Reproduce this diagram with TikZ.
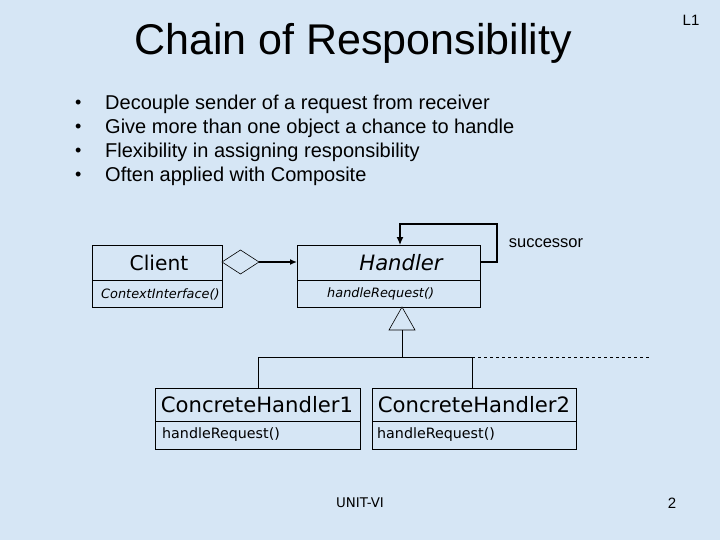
\documentclass[tikz,border=0pt]{standalone}
\usepackage{fontspec}
\usetikzlibrary{arrows.meta}
\setmainfont{Liberation Sans}
\newfontfamily\tahoma{DejaVu Sans}[Scale=0.92]
\begin{document}
\begin{tikzpicture}[x=1pt,y=-1pt,
  box/.style={draw,line width=0.6pt},
  lbl/.style={inner sep=0pt,anchor=west},
  ln/.style={line width=0.6pt}]
\fill[fill={rgb,255:red,214;green,230;blue,245}] (0,0) rectangle (720,540);
\useasboundingbox (0,0) rectangle (720,540);
\node[inner sep=0pt] (title) at (353,43) {\fontsize{43}{48}\selectfont Chain of Responsibility};
\node[inner sep=0pt] (l1) at (691,20) {\fontsize{15}{18}\selectfont L1};
\foreach \y/\t in {104/Decouple sender of a request from receiver,128/Give more than one object a chance to handle,152/Flexibility in assigning responsibility,176/Often applied with Composite}{
  \node[lbl] at (75,\y) {\fontsize{18}{20}\selectfont •};
  \node[lbl] at (105,\y) {\fontsize{20}{22}\selectfont \t};
}
% Client
\draw[box] (92,245) rectangle (222,307); \draw[ln] (92,280)--(222,280);
\node[inner sep=0pt] (client) at (159,263) {\tahoma\fontsize{22}{24}\selectfont Client};
\node[lbl] (ci) at (101,294) {\tahoma\fontsize{14}{16}\selectfont\itshape ContextInterface()};
% Handler
\draw[box] (297,245) rectangle (480,307); \draw[ln] (297,280)--(480,280);
\node[inner sep=0pt] (handler) at (401,263) {\tahoma\fontsize{23}{26}\selectfont\itshape Handler};
\node[lbl] (hr) at (327,294) {\tahoma\fontsize{14}{16}\selectfont\itshape handleRequest()};
% diamond + arrow
\coordinate (d1) at (222,262); \coordinate (d2) at (259,262);
\draw[ln,fill={rgb,255:red,214;green,230;blue,245}] (d1)--(240.5,250)--(d2)--(240.5,274)--cycle;
\coordinate (hl) at (297,262);
\draw[line width=1.3pt,-{Latex[length=7pt,width=6pt]}] (d2)--(hl);
% self loop
\coordinate (hr1) at (480,262); \coordinate (ht) at (400,245);
\draw[line width=1.3pt,-{Latex[length=8pt,width=7pt]}] (hr1)--(497,262)--(497,224)--(400,224)--(ht);
\node[inner sep=0pt] (succ) at (546,243) {\fontsize{16.5}{19}\selectfont successor};
% inheritance
\draw[ln,fill={rgb,255:red,214;green,230;blue,245}] (402,307)--(415,330)--(389,330)--cycle;
\draw[ln] (402,330)--(402,357);
\draw[ln] (258,357)--(472,357);
\draw[ln,dashed] (472,357)--(650,357);
\draw[ln] (258,357)--(258,388);
\draw[ln] (472,357)--(472,388);
% CH1
\draw[box] (155,388) rectangle (360,449); \draw[ln] (155,421)--(360,421);
\node[inner sep=0pt] (ch1) at (257,405) {\tahoma\fontsize{23}{26}\selectfont ConcreteHandler1};
\node[lbl] (ch1r) at (162,435) {\tahoma\fontsize{15.5}{18}\selectfont handleRequest()};
% CH2
\draw[box] (372,388) rectangle (576,449); \draw[ln] (372,421)--(576,421);
\node[inner sep=0pt] (ch2) at (474,405) {\tahoma\fontsize{23}{26}\selectfont ConcreteHandler2};
\node[lbl] (ch2r) at (377,435) {\tahoma\fontsize{15.5}{18}\selectfont handleRequest()};
\node[inner sep=0pt] (unit) at (360,503) {\tahoma\fontsize{14.5}{17}\selectfont UNIT-VI};
\node[inner sep=0pt] (pg) at (672,503) {\fontsize{15}{18}\selectfont 2};
\end{tikzpicture}
\end{document}
